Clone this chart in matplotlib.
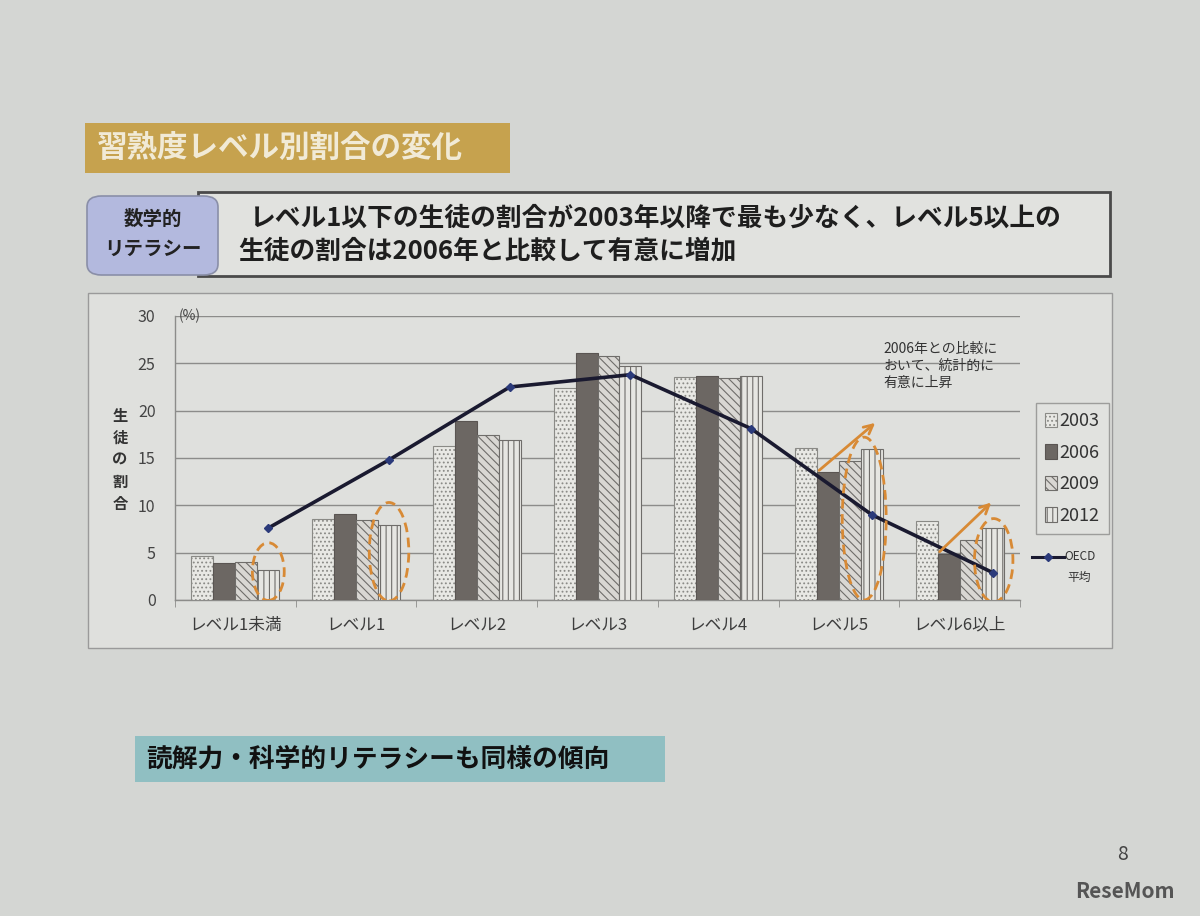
import matplotlib
matplotlib.use("Agg")
import matplotlib.pyplot as plt
import numpy as np
from matplotlib.patches import FancyBboxPatch, Ellipse, Patch
from matplotlib.lines import Line2D

plt.rcParams['font.family'] = ['Noto Sans CJK JP', 'DejaVu Sans']
plt.rcParams['hatch.linewidth'] = 0.8

# data (% of students per proficiency level)
levels = ['レベル1未満', 'レベル1', 'レベル2', 'レベル3', 'レベル4', 'レベル5', 'レベル6以上']
years = ['2003', '2006', '2009', '2012']
y2003 = [4.7, 8.6, 16.3, 22.4, 23.6, 16.1, 8.3]
y2006 = [3.9, 9.1, 18.9, 26.1, 23.7, 13.5, 4.9]
y2009 = [4.0, 8.5, 17.4, 25.8, 23.5, 14.7, 6.3]
y2012 = [3.2, 7.9, 16.9, 24.7, 23.7, 16.0, 7.6]
oecd = [7.6, 14.8, 22.5, 23.8, 18.1, 9.0, 2.9]
y_ticks = [0, 5, 10, 15, 20, 25, 30]

W, H = 1200, 916
fig = plt.figure(figsize=(W / 100, H / 100), dpi=100)
fig.patch.set_facecolor('#d4d6d3')


def fx(x):
    return x / W


def fy(y):
    return 1 - y / H


def box(x0, y0, x1, y1, fc, ec='none', lw=0, rounded=False, z=1):
    style = 'round,pad=0,rounding_size=0.012' if rounded else 'square,pad=0'
    p = FancyBboxPatch((fx(x0), fy(y1)), fx(x1 - x0), (y1 - y0) / H,
                       boxstyle=style, transform=fig.transFigure,
                       fc=fc, ec=ec, lw=lw, zorder=z)
    fig.add_artist(p)
    return p


# slide header
box(85, 123, 510, 173, '#c6a24e')
fig.text(fx(97), fy(149), '習熟度レベル別割合の変化', fontsize=22, fontweight='bold',
         color='#f1ead6', va='center', ha='left')

box(198, 192, 1110, 276, '#e1e2df', ec='#4a4a4a', lw=2)
box(87, 196, 218, 275, '#b3b9de', ec='#8a8fa8', lw=1.2, rounded=True, z=2)
fig.text(fx(153), fy(219), '数学的', fontsize=14, fontweight='bold', color='#222',
         ha='center', va='center', zorder=3)
fig.text(fx(153), fy(249), 'リテラシー', fontsize=14, fontweight='bold', color='#222',
         ha='center', va='center', zorder=3)
fig.text(fx(250), fy(218), 'レベル1以下の生徒の割合が2003年以降で最も少なく、レベル5以上の',
         fontsize=18.5, fontweight='bold', color='#1e1e1e', va='center', ha='left')
fig.text(fx(238), fy(251), '生徒の割合は2006年と比較して有意に増加',
         fontsize=18.5, fontweight='bold', color='#1e1e1e', va='center', ha='left')

# chart frame
box(88, 293, 1112, 648, '#dfe0dd', ec='#9a9a9a', lw=1)

ax = fig.add_axes([fx(175), fy(600), fx(1020 - 175), (600 - 316) / H])
ax.set_facecolor('none')
ax.set_zorder(5)

x = np.arange(len(levels))
w = 0.182
offs = [-1.5 * w, -0.5 * w, 0.5 * w, 1.5 * w]
styles = [
    dict(fc='#e8e8e4', hatch='....', ec='#8a8a86'),
    dict(fc='#6c6763', hatch=None, ec='#5a5552'),
    dict(fc='#d9d7d3', hatch='\\\\\\\\', ec='#6f6d6a'),
    dict(fc='#e6e6e2', hatch='|||', ec='#6f6d6a'),
]
series = [y2003, y2006, y2009, y2012]
for vals, off, st in zip(series, offs, styles):
    ax.bar(x + off, vals, w, color=st['fc'], edgecolor=st['ec'], hatch=st['hatch'],
           linewidth=0.8, zorder=3)

# OECD average line sits over the 2012 bars
ax.plot(x + offs[3], oecd, color='#1a1a30', lw=2.6, marker='D', ms=4.5,
        mfc='#2b3a7a', mec='#2b3a7a', zorder=6)

ax.set_xlim(-0.5, len(levels) - 0.5)
ax.set_ylim(0, 30)
ax.set_yticks(y_ticks)
ax.set_yticklabels([str(t) for t in y_ticks], fontsize=11.5, color='#444')
ax.yaxis.grid(True, color='#8c8c8a', lw=1)
ax.set_axisbelow(True)
ax.tick_params(axis='y', length=0, pad=14)
ax.set_xticks(x)
ax.set_xticklabels(levels, fontsize=12, color='#3c3c3c')
ax.set_xticks(np.arange(-0.5, len(levels)), minor=True)
ax.tick_params(axis='x', which='major', length=0, pad=12)
ax.tick_params(axis='x', which='minor', length=5, color='#8c8c8a', direction='out')
for s in ['top', 'right']:
    ax.spines[s].set_visible(False)
for s in ['left', 'bottom']:
    ax.spines[s].set_color('#8c8c8a')
    ax.spines[s].set_linewidth(1)

ax.text(-0.47, 30, '(%)', fontsize=10, color='#444', va='center', ha='left')
fig.text(fx(120), fy(460), '生\n徒\nの\n割\n合', fontsize=11, fontweight='bold',
         color='#333', ha='center', va='center', linespacing=1.45)

# dashed orange ellipses around the significant bars
orange = '#d88a35'
ell = [(0, 0, 1.45, 3.0, 6.1), (1, 0, 1.8, 5.1, 10.4), (5, -0.35, 2.0, 8.6, 17.2), (6, 0.05, 1.75, 4.2, 8.8)]
for i, dx, ew, cy, eh in ell:
    ax.add_patch(Ellipse((x[i] + offs[3] + dx * w, cy), ew * w, eh, fill=False,
                         ec=orange, lw=2, ls=(0, (3.5, 2)), zorder=7))

# arrows from 2006 bar tops
for i, dxe, dye in [(5, 0.5, 5.4), (6, 0.46, 5.6)]:
    x0 = x[i] + offs[1] - w / 2
    y0 = series[1][i]
    ax.annotate('', xy=(x0 + dxe, y0 + dye), xytext=(x0, y0),
                arrowprops=dict(arrowstyle='->', color=orange, lw=2, mutation_scale=16),
                zorder=8)

ax.text(5.37, 27.3, '2006年との比較に\nおいて、統計的に\n有意に上昇', fontsize=10,
        color='#333', va='top', ha='left', linespacing=1.3)

# legend
handles = [Patch(facecolor=st['fc'], edgecolor=st['ec'], hatch=st['hatch'], lw=0.8)
           for st in styles]
leg = fig.legend(handles, years, loc='upper left',
                 bbox_to_anchor=(fx(1036), fy(403)), frameon=True, fontsize=13,
                 handlelength=0.65, handleheight=0.85, handletextpad=0.15,
                 labelspacing=0.75, borderpad=0.5, borderaxespad=0)
leg.get_frame().set_edgecolor('#8c8c8a')
leg.get_frame().set_facecolor('#e2e3e0')
leg.get_frame().set_boxstyle('square', pad=0)
for t in leg.get_texts():
    t.set_color('#333')

fig.add_artist(Line2D([fx(1032), fx(1064)], [fy(557), fy(557)], color='#1a1a30', lw=2.2,
                      transform=fig.transFigure))
fig.add_artist(Line2D([fx(1048)], [fy(557)], color='#2b3a7a', marker='D', ms=4,
                      transform=fig.transFigure))
fig.text(fx(1064), fy(557), 'OECD', fontsize=8.5, color='#333', va='center', ha='left')
fig.text(fx(1067), fy(577), '平均', fontsize=8.5, color='#333', va='center', ha='left')

# bottom note
box(135, 736, 665, 782, '#90bfc2')
fig.text(fx(146), fy(759), '読解力・科学的リテラシーも同様の傾向', fontsize=18.5,
         fontweight='bold', color='#111', va='center', ha='left')

fig.text(fx(1122), fy(855), '8', fontsize=14, color='#444', ha='center', va='center')
fig.text(fx(1175), fy(892), 'ReseMom', fontsize=15, fontweight='bold', color='#555',
         ha='right', va='center')

fig.savefig('out.png', dpi=100, facecolor=fig.get_facecolor())
